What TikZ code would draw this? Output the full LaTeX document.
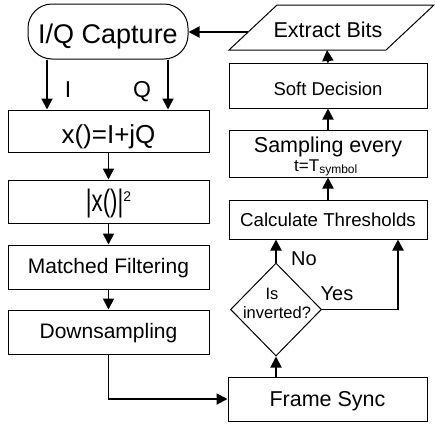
\documentclass[tikz,border=0pt]{standalone}
\usepackage{fontspec}
\usepackage{graphicx}
\setmainfont{Liberation Sans}
\usetikzlibrary{arrows.meta,shapes.geometric,calc}
\newcommand{\fsz}[1]{\fontsize{#1}{#1}\selectfont}
\begin{document}
\begin{tikzpicture}[x=1pt,y=-1pt,
  box/.style={draw, line width=1pt, inner sep=0pt, align=center, text depth=0pt},
  arr/.style={line width=1.9pt, -{Triangle[length=11pt,width=11pt]}},
  lbl/.style={inner sep=0pt, anchor=base}]
\useasboundingbox (0,0) rectangle (435,426);
% left column
\node[box, rounded corners=24pt, minimum width=160pt, minimum height=55pt, font=\fsz{27}, text height=24.3pt] (cap) at (108,31.5) {I/Q Capture};
\node[box, minimum width=201pt, minimum height=42pt, font=\fsz{26}, text height=24.6pt] (xiq) at (108.5,131) {x()=I+jQ};
\node[box, minimum width=201pt, minimum height=43pt, font=\fsz{31}, text height=20pt] (abs) at (108.5,201.5) {\scalebox{0.72}[1]{|x()|}\raisebox{10pt}{\fsz{14}2}};
\node[box, minimum width=201pt, minimum height=44pt, font=\fsz{21}, text height=12pt] (mf) at (108.5,267) {Matched Filtering};
\node[box, minimum width=201pt, minimum height=44pt, font=\fsz{21}, text height=12pt] (ds) at (108.5,332) {Downsampling};
% right column
\node[box, minimum width=199pt, minimum height=44pt, font=\fsz{21.5}, text height=15.4pt] (fs) at (327.5,399) {Frame Sync};
\node[draw, line width=1pt, diamond, minimum width=91pt, minimum height=93pt, inner sep=0pt, aspect=1] (dia) at (276,309.5) {};
\node[lbl, font=\fsz{16.5}] (dia1) at (272,299) {Is};
\node[lbl, font=\fsz{16.5}] (dia2) at (277,318) {inverted?};
\node[box, minimum width=198pt, minimum height=39pt, font=\fsz{18.7}, text height=13.4pt] (ct) at (328,219.5) {Calculate Thresholds};
\node[box, minimum width=198pt, minimum height=47pt] (se) at (328,153.5) {};
\node[lbl, font=\fsz{21.5}] (se1) at (328,152) {Sampling every};
\node[lbl, font=\fsz{17}] (se2) at (326,171) {t=T\textsubscript{\fsz{12}symbol}};
\node[box, minimum width=198pt, minimum height=45pt, font=\fsz{18.5}, text height=19.2pt] (sd) at (328,85.5) {Soft Decision};
% Extract Bits parallelogram
\coordinate (ebBL) at (229,50);
\coordinate (ebBR) at (386,50);
\coordinate (ebTR) at (434,5);
\coordinate (ebTL) at (277,5);
\draw[line width=1pt] (ebBL) -- (ebBR) -- (ebTR) -- (ebTL) -- cycle;
\node[lbl, font=\fsz{21.5}] (eb) at (328,37) {Extract Bits};
\coordinate (ebL) at (248,32);
\coordinate (ebB) at (327,50);
% labels
\node[lbl, font=\fsz{23}] (lI) at (68,97) {I};
\node[lbl, font=\fsz{23}] (lQ) at (142,97) {Q};
\node[lbl, font=\fsz{20}] (lNo) at (304,265) {No};
\node[lbl, font=\fsz{20}] (lYes) at (337,300) {Yes};
% helper x positions
\coordinate (xI) at (47,0);
\coordinate (xQ) at (168,0);
\coordinate (xYes) at (398,0);
% connectors
\draw[arr] (ebL) -- (cap.east |- ebL);
\draw[arr] (cap.south -| xI) -- (xiq.north -| xI);
\draw[arr] (cap.south -| xQ) -- (xiq.north -| xQ);
\draw[arr] (xiq.south) -- (abs.north);
\draw[arr] (abs.south) -- (mf.north);
\draw[arr] (mf.south) -- (ds.north);
\draw[arr] (ds.south) |- (fs.west);
\draw[arr] (dia.south |- fs.north) -- (dia.south);
\draw[arr] (dia.north) -- (dia.north |- ct.south);
\draw[arr] (dia.east) -| (ct.south -| xYes);
\draw[arr] (ct.north -| se.south) -- (se.south);
\draw[arr] (se.north) -- (sd.south);
\draw[arr] (sd.north) -- (ebB);
\end{tikzpicture}
\end{document}
